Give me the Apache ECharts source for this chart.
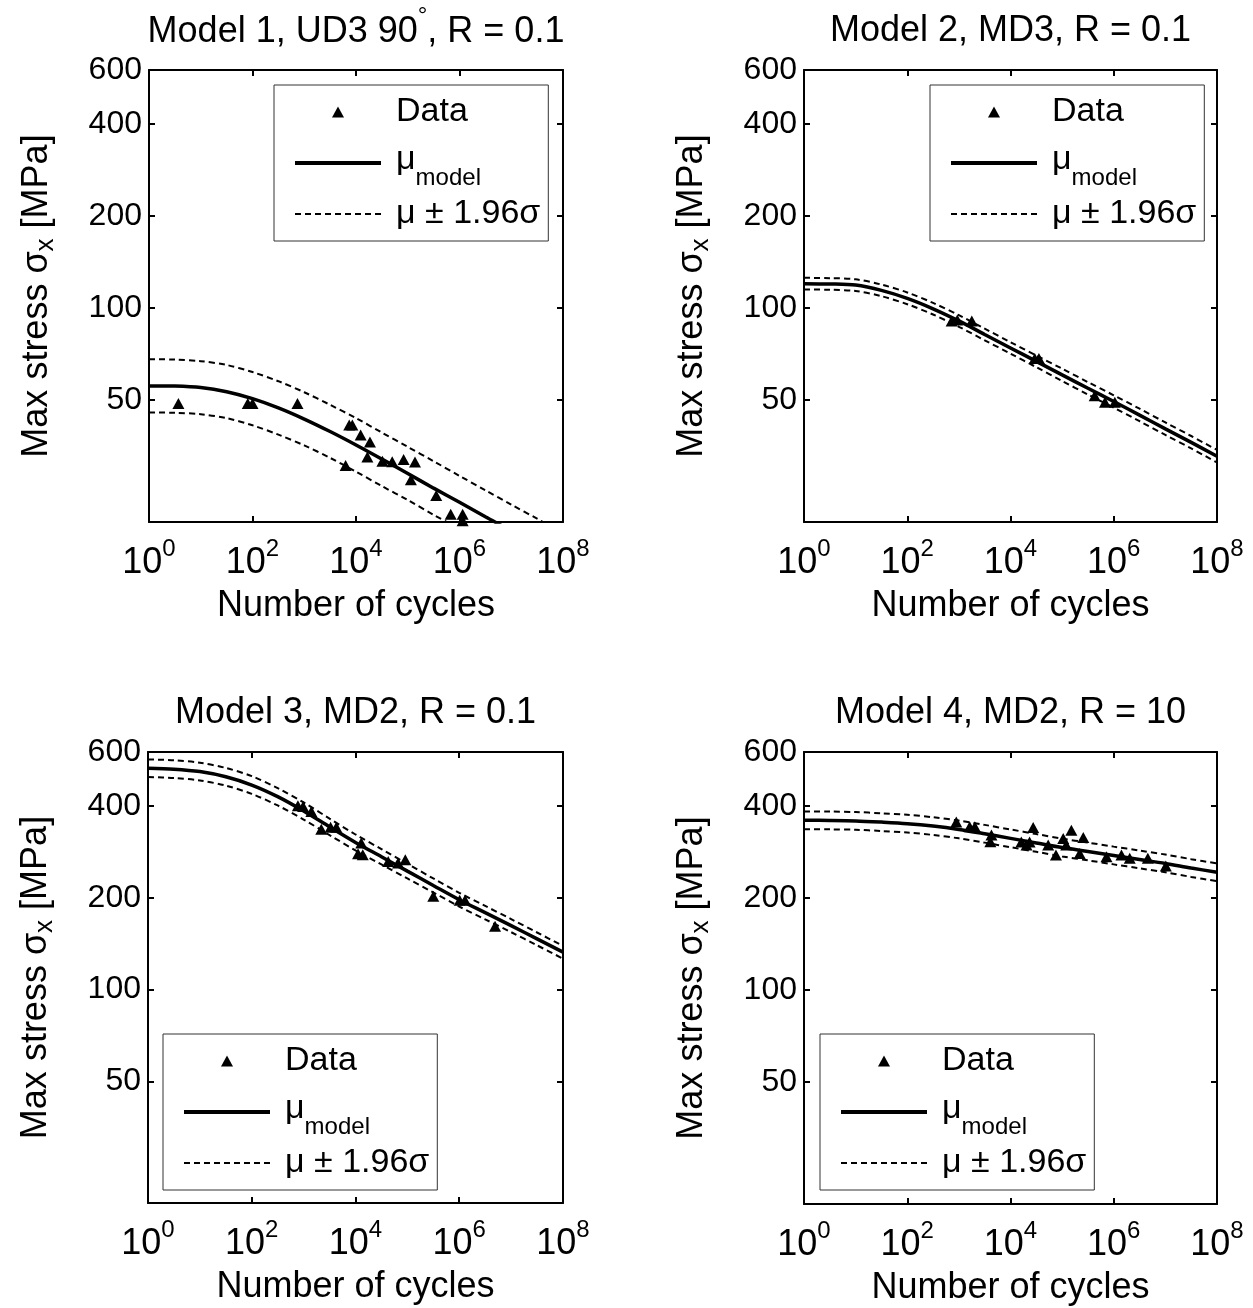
<!DOCTYPE html>
<html>
<head>
<meta charset="utf-8">
<script src="https://cdn.jsdelivr.net/npm/echarts@6/dist/echarts.min.js"></script>
<style>
html,body{margin:0;padding:0;background:#fff;}
#chart{width:1253px;height:1308px;}
</style>
</head>
<body>
<div id="chart"></div>
<script>
// ---------- data ----------
const cycles = [1, 3.162, 10, 31.62, 100, 316.2, 1000, 3162, 1e4, 31623, 1e5, 316228, 1e6, 3162278, 1e7, 31622777, 1e8];

// Model 1, UD3 90°, R = 0.1
const m1Mean  = [55.7, 55.6, 55.0, 53.3, 50.6, 47.2, 43.4, 39.5, 35.7, 32.1, 28.8, 25.8, 23.2, 20.8, 18.7, 16.7, 15.0];
const m1Upper = [68.1, 67.9, 67.1, 65.2, 61.8, 57.7, 53.1, 48.3, 43.7, 39.2, 35.2, 31.6, 28.3, 25.4, 22.8, 20.5, 18.4];
const m1Lower = [45.6, 45.5, 45.0, 43.7, 41.4, 38.6, 35.6, 32.4, 29.2, 26.2, 23.6, 21.1, 19.0, 17.0, 15.3, 13.7, 12.3];
const m1DataN = [3.7, 81, 100, 740, 7400, 8500, 12300, 18600, 6300, 16600, 32400, 50100, 83200, 138000, 115000, 355000, 676000, 1150000, 1150000];
const m1DataS = [48.8, 48.8, 48.8, 48.8, 41.5, 41.5, 38.5, 36.5, 30.6, 32.6, 31.6, 31.5, 32.0, 31.4, 27.5, 24.4, 21.2, 21.2, 20.2];

// Model 2, MD3, R = 0.1
const m2Mean  = [120.2, 119.9, 118.9, 114.3, 107.6, 99.5, 90.8, 82.0, 74.1, 67.0, 60.5, 54.7, 49.5, 44.7, 40.3, 36.4, 32.8];
const m2Upper = [125.6, 125.3, 124.2, 119.4, 112.5, 104.0, 94.8, 85.7, 77.4, 70.0, 63.4, 57.3, 51.9, 46.9, 42.3, 38.2, 34.4];
const m2Lower = [115.1, 114.8, 113.8, 109.4, 103.0, 95.3, 86.9, 78.5, 71.0, 64.1, 57.8, 52.2, 47.3, 42.7, 38.5, 34.8, 31.3];
const m2DataN = [724, 933, 1780, 29500, 35500, 427000, 676000, 1050000];
const m2DataS = [90.7, 91.4, 90.7, 68.4, 68.4, 51.7, 49.2, 49.2];

// Model 3, MD2, R = 0.1
const m3Mean  = [530.8, 527.2, 517.6, 497.7, 467.7, 428.5, 384.6, 341.2, 303.4, 272.3, 244.3, 219.3, 197.0, 178.6, 162.0, 146.6, 132.6];
const m3Upper = [567.5, 563.6, 553.4, 532.1, 500.0, 457.1, 410.2, 363.1, 322.1, 288.4, 258.2, 231.2, 207.5, 187.9, 170.2, 153.8, 139.1];
const m3Lower = [496.5, 493.2, 484.2, 465.6, 437.5, 400.9, 360.6, 320.6, 285.8, 257.0, 231.2, 208.0, 187.1, 169.8, 154.2, 139.6, 126.3];
const m3DataN = [776, 977, 1410, 2190, 3310, 4270, 12900, 11200, 13800, 42700, 66100, 91200, 316000, 1020000, 1290000, 4900000];
const m3DataS = [399.7, 397.7, 383, 335.3, 340.4, 340, 301.8, 278.5, 276.4, 262.9, 259.7, 266.3, 202, 196, 196, 161.2];

// Model 4, MD2, R = 10
const m4Mean  = [358.9, 358.5, 357.3, 354.0, 349.9, 343.6, 335.0, 324.3, 313.3, 302.7, 292.4, 283.8, 275.4, 267.3, 259.4, 250.6, 242.7];
const m4Upper = [383.7, 383.3, 381.9, 378.4, 374.1, 367.3, 358.1, 346.7, 335.0, 323.6, 312.6, 303.4, 294.4, 285.8, 277.3, 267.9, 259.4];
const m4Lower = [335.7, 335.3, 334.2, 331.1, 327.3, 321.4, 313.3, 303.4, 293.1, 283.1, 273.5, 265.5, 257.6, 250.0, 242.7, 234.4, 227.0];
const m4DataN = [891, 1620, 2040, 4270, 4070, 27500, 16200, 20400, 23400, 53700, 75900, 105000, 151000, 120000, 257000, 219000, 724000, 1410000, 2040000, 4570000, 10200000];
const m4DataS = [354.6, 341.6, 341.6, 321, 305.2, 340, 305, 297.8, 305, 297.8, 276.3, 313.1, 333.3, 297.8, 315.5, 279.8, 272.9, 276.3, 269.5, 269.5, 254.4];

const yTicks = [50, 100, 200, 400, 600];
const xRange = [1, 1e8];
const yRange = [20, 600];
const titleTexts = ['Model 1, UD3 90°, R = 0.1', 'Model 2, MD3, R = 0.1', 'Model 3, MD2, R = 0.1', 'Model 4, MD2, R = 10'];
const legendNames = ['Data', 'μmodel', 'μ ± 1.96σ'];

// ---------- layout / style ----------
const FONT = "'Liberation Sans', Arial, Helvetica, sans-serif";
const panels = [
  {mean: m1Mean, upper: m1Upper, lower: m1Lower, dn: m1DataN, ds: m1DataS,
   grid: {left: 149, top: 70, width: 414, height: 452}, legend: {left: 274, top: 85}},
  {mean: m2Mean, upper: m2Upper, lower: m2Lower, dn: m2DataN, ds: m2DataS,
   grid: {left: 804, top: 70, width: 413, height: 452}, legend: {left: 930, top: 85}},
  {mean: m3Mean, upper: m3Upper, lower: m3Lower, dn: m3DataN, ds: m3DataS,
   grid: {left: 148, top: 752, width: 415, height: 451}, legend: {left: 163, top: 1034}},
  {mean: m4Mean, upper: m4Upper, lower: m4Lower, dn: m4DataN, ds: m4DataS,
   grid: {left: 804, top: 752, width: 413, height: 452}, legend: {left: 820, top: 1034}}
];

const yTickPos = yTicks.map(v => Math.log10(v));
const black = '#000';
const lineAxis = {show: true, lineStyle: {color: black, width: 2}};
const tickIn = {show: true, inside: true, length: 6, lineStyle: {color: black, width: 2}};

const option = {
  animation: false,
  backgroundColor: '#fff',
  textStyle: {fontFamily: FONT, color: black},
  title: [], grid: [], xAxis: [], yAxis: [], legend: [], series: []
};

panels.forEach((p, g) => {
  const gr = p.grid;
  option.grid.push(Object.assign({containLabel: false}, gr));
  option.title.push({
    text: '{a|' + titleTexts[g].replace('°', '}{d|°}{a|') + '}',
    left: gr.left + gr.width / 2,
    top: gr.top - 66,
    textAlign: 'center',
    padding: 0,
    textStyle: {
      fontFamily: FONT, fontSize: 36, fontWeight: 'normal', color: black,
      rich: {
        a: {fontFamily: FONT, fontSize: 36, color: black, lineHeight: 54},
        d: {fontFamily: FONT, fontSize: 24, color: black, padding: [0, 0, 32, 0]}
      }
    }
  });
  // bottom x (log) axis with labels
  option.xAxis.push({
    type: 'log', logBase: 10, gridIndex: g, min: xRange[0], max: xRange[1], interval: 2,
    position: 'bottom',
    axisLine: lineAxis, axisTick: tickIn, splitLine: {show: false}, minorTick: {show: false},
    axisLabel: {
      margin: 15,
      formatter: v => '{b|10}{s|' + Math.round(Math.log10(v)) + '}',
      rich: {
        b: {fontFamily: FONT, fontSize: 36, color: black},
        s: {fontFamily: FONT, fontSize: 24, color: black, padding: [0, 0, 28, 0]}
      }
    },
    name: 'Number of cycles', nameLocation: 'middle', nameGap: 66,
    nameTextStyle: {fontFamily: FONT, fontSize: 36, color: black}
  });
  // top x axis (frame + ticks)
  option.xAxis.push({
    type: 'log', logBase: 10, gridIndex: g, min: xRange[0], max: xRange[1], interval: 2,
    position: 'top',
    axisLine: lineAxis, axisTick: tickIn, axisLabel: {show: false},
    splitLine: {show: false}, minorTick: {show: false}
  });
  // data y axis (log scale, hidden)
  option.yAxis.push({
    type: 'log', logBase: 10, gridIndex: g, min: yRange[0], max: yRange[1], position: 'left',
    axisLine: {show: false}, axisTick: {show: false}, axisLabel: {show: false},
    splitLine: {show: false}, minorTick: {show: false}
  });
  // left labelled frame axis
  option.yAxis.push({
    type: 'value', gridIndex: g, min: Math.log10(yRange[0]), max: Math.log10(yRange[1]), position: 'left',
    axisLine: lineAxis,
    axisTick: Object.assign({customValues: yTickPos}, tickIn),
    axisLabel: {
      customValues: yTickPos, margin: 7,
      formatter: v => String(Math.round(Math.pow(10, v))),
      fontFamily: FONT, fontSize: 32, color: black
    },
    splitLine: {show: false},
    name: '{a|Max stress σ}{x|x}{a| [MPa]}', nameLocation: 'middle', nameRotate: 90, nameGap: 90,
    nameTextStyle: {
      fontFamily: FONT, fontSize: 36, color: black,
      rich: {
        a: {fontFamily: FONT, fontSize: 36, color: black},
        x: {fontFamily: FONT, fontSize: 26, color: black, padding: [18, 0, 0, 0]}
      }
    }
  });
  // right frame axis
  option.yAxis.push({
    type: 'value', gridIndex: g, min: Math.log10(yRange[0]), max: Math.log10(yRange[1]), position: 'right',
    axisLine: lineAxis,
    axisTick: Object.assign({customValues: yTickPos}, tickIn),
    axisLabel: {show: false}, splitLine: {show: false}
  });

  option.legend.push({
    orient: 'vertical', left: p.legend.left, top: p.legend.top,
    padding: [10, 8, 10, 19], itemGap: 7, itemWidth: 86, itemHeight: 11,
    borderColor: '#333', borderWidth: 1, backgroundColor: '#fff',
    selectedMode: false,
    data: [
      {name: legendNames[0], icon: 'path://M6,0L12,11L0,11Z'},
      {name: legendNames[1], itemStyle: {opacity: 0}, lineStyle: {width: 4}},
      {name: legendNames[2], itemStyle: {opacity: 0}, lineStyle: {width: 2}}
    ],
    formatter: n => n === 'μmodel' ? '{m|μ}{s|model}' : '{t|' + n + '}',
    textStyle: {
      fontFamily: FONT, fontSize: 34, color: black,
      rich: {
        t: {fontFamily: FONT, fontSize: 34, color: black, lineHeight: 40, padding: [0, 0, 0, 10]},
        m: {fontFamily: FONT, fontSize: 34, color: black, lineHeight: 40, padding: [0, 0, 6, 10]},
        s: {fontFamily: FONT, fontSize: 24, color: black, lineHeight: 30, padding: [30, 0, 0, 0]}
      }
    }
  });

  const xi = 2 * g, yi = 3 * g;
  const pairs = arr => cycles.map((c, i) => [c, arr[i]]);
  option.series.push({
    type: 'line', name: 'μ ± 1.96σ', xAxisIndex: xi, yAxisIndex: yi,
    data: pairs(p.upper), symbol: 'none', smooth: 0.3, clip: true,
    lineStyle: {color: black, width: 2, type: [6, 4]}, itemStyle: {color: black}, z: 2
  });
  option.series.push({
    type: 'line', name: 'μ ± 1.96σ', xAxisIndex: xi, yAxisIndex: yi,
    data: pairs(p.lower), symbol: 'none', smooth: 0.3, clip: true,
    lineStyle: {color: black, width: 2, type: [6, 4]}, itemStyle: {color: black}, z: 2
  });
  option.series.push({
    type: 'line', name: 'μmodel', xAxisIndex: xi, yAxisIndex: yi,
    data: pairs(p.mean), symbol: 'none', smooth: 0.3, clip: true,
    lineStyle: {color: black, width: 3.5}, itemStyle: {color: black}, z: 3
  });
  option.series.push({
    type: 'scatter', name: 'Data', xAxisIndex: xi, yAxisIndex: yi,
    data: p.dn.map((n, i) => [n, p.ds[i]]), symbol: 'triangle', symbolSize: [12, 11],
    itemStyle: {color: black, opacity: 1}, z: 4
  });
});

const chart = echarts.init(document.getElementById('chart'), null, {renderer: 'canvas'});
chart.setOption(option);
</script>
</body>
</html>
